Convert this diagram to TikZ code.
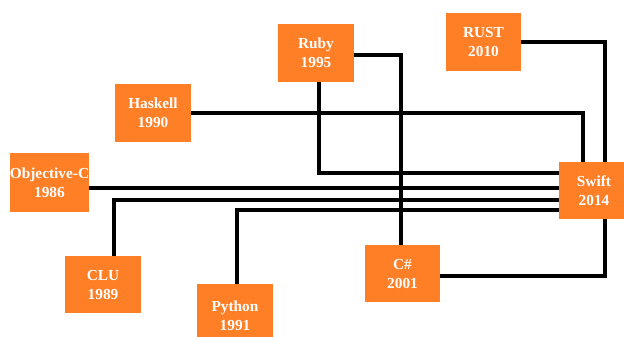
\documentclass[tikz,border=0pt]{standalone}
\usepackage{fontspec}
\setmainfont{Liberation Serif}
\usetikzlibrary{calc}
\definecolor{paintorange}{RGB}{255,127,39}
\begin{document}
\begin{tikzpicture}[x=0.75pt,y=-0.75pt,
  lang/.style={draw=none,fill=paintorange,text=white,inner sep=0pt,
    align=center,font=\fontsize{11.5}{14.25}\selectfont\bfseries},
  link/.style={draw=black,line width=2.5pt}]
\useasboundingbox (0,0) rectangle (624,336);
\clip (0,0) rectangle (624,336);
\node[lang,minimum width=57pt,minimum height=43.5pt] (ruby) at (316,53) {Ruby\\1995};
\node[lang,minimum width=56.25pt,minimum height=43.5pt] (rust) at (483.5,42) {RUST\\2010};
\node[lang,minimum width=57pt,minimum height=43.5pt] (haskell) at (153,113) {Haskell\\1990};
\node[lang,minimum width=59.25pt,minimum height=44.25pt,text depth=-2.5pt] (objc) at (49.5,182.5) {Objective-C\\1986};
\node[lang,minimum width=52.5pt,minimum height=42.75pt] (swift) at (594,190.5) {Swift\\2014};
\node[lang,minimum width=57pt,minimum height=42.75pt] (clu) at (103,284.5) {CLU\\1989};
\node[lang,minimum width=57pt,minimum height=48pt] (python) at (235,316) {Python\\1991};
\node[lang,minimum width=56.25pt,minimum height=42.75pt] (csharp) at (402.5,273.5) {C\#\\2001};
% connectors
\draw[link] (rust.east) -| ($(swift.north)+(11,0)$);
\draw[link] (haskell.east) -| ($(swift.north)+(-11,0)$);
\draw[link] ($(swift.south)+(11,0)$) |- ($(csharp.east)+(0,2.5)$);
\draw[link] ($(ruby.east)+(0,2)$) -| ($(csharp.north)+(-1.5,0)$);
\draw[link] ($(ruby.south)+(3,0)$) |- ($(swift.west)+(0,-17.5)$);
\draw[link] ($(objc.east)+(0,5.5)$) -- ($(swift.west)+(0,-2.5)$);
\draw[link] ($(clu.north)+(11,0)$) |- ($(swift.west)+(0,9.5)$);
\draw[link] ($(python.north)+(2,0)$) |- ($(swift.west)+(0,19.5)$);
\end{tikzpicture}
\end{document}
